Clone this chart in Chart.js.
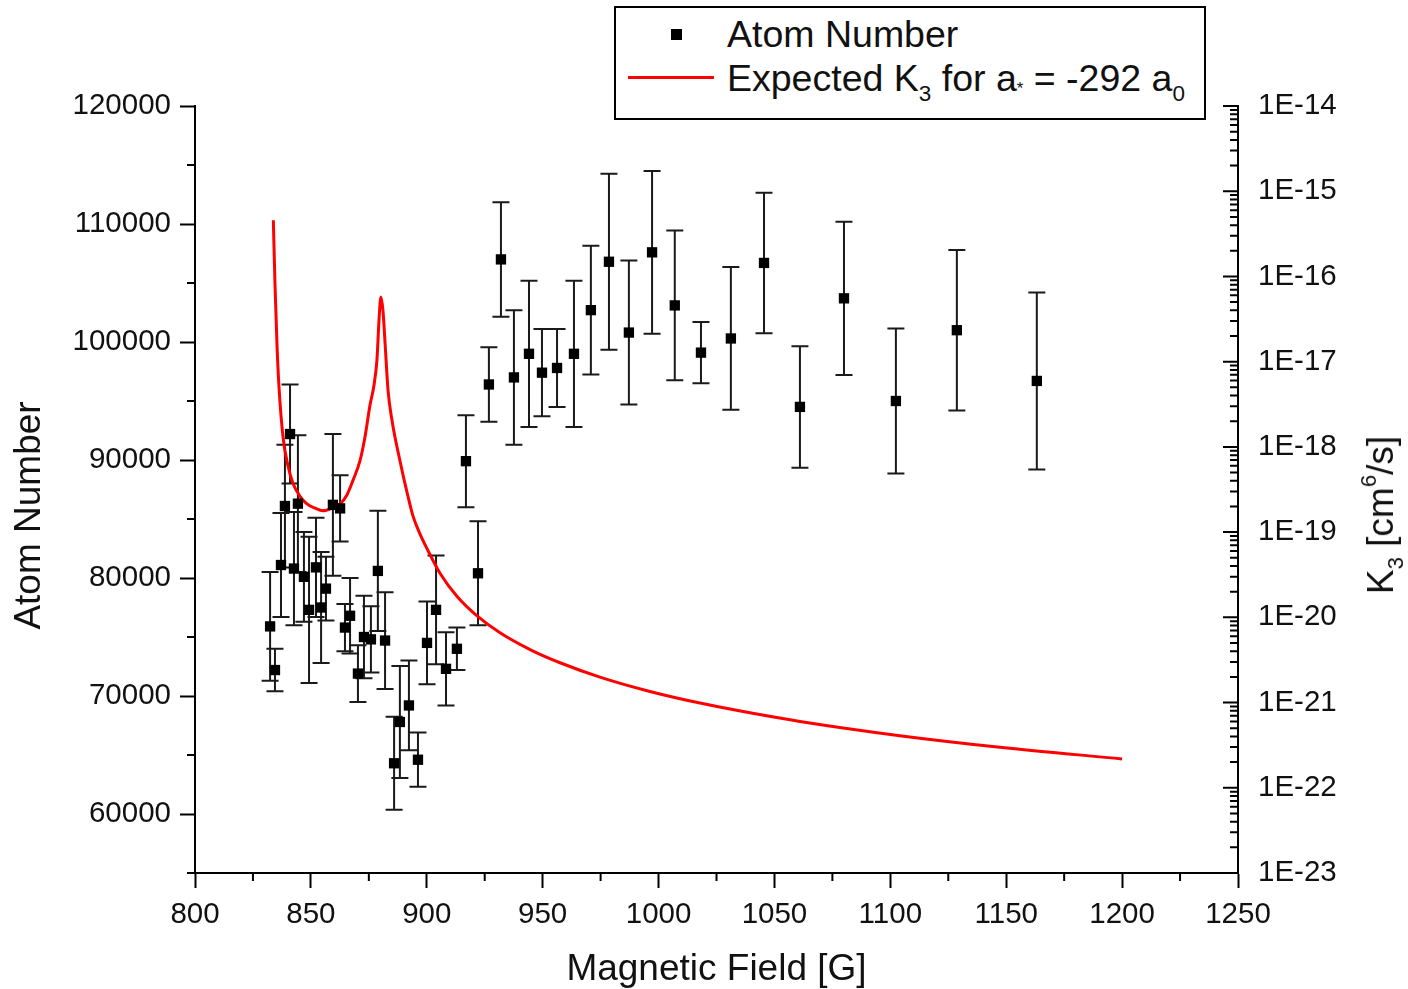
<!DOCTYPE html>
<html>
<head>
<meta charset="utf-8">
<script src="https://cdn.jsdelivr.net/npm/chart.js@4.4.0/dist/chart.umd.min.js"></script>
<style>
html,body{margin:0;padding:0;background:#fff;}
#wrap{position:relative;width:1408px;height:989px;overflow:hidden;}
#chart{position:absolute;left:0;top:0;}
.txt{font-family:"Liberation Sans",Arial,sans-serif;color:#111;}
#legend{position:absolute;left:614px;top:6px;width:588px;height:110px;border:2px solid #000;background:#fff;font-size:37.5px;}
#legend .row{position:absolute;left:111px;height:40px;line-height:40px;white-space:nowrap;}
#legend .sq{position:absolute;left:55px;top:21px;width:11px;height:11px;background:#000;}
#legend .ln{position:absolute;left:12px;top:68px;width:86px;height:3px;background:#ff0000;}
sub.s{font-size:60%;vertical-align:-0.45em;line-height:0;}
sup.s{font-size:60%;vertical-align:0.75em;line-height:0;}
#rtitle{position:absolute;left:1381px;top:515px;transform:translate(-50%,-50%) rotate(-90deg);font-size:37px;white-space:nowrap;}
</style>
</head>
<body>
<div id="wrap">
<canvas id="chart" width="1408" height="989"></canvas>
<div id="legend" class="txt">
  <div class="sq"></div>
  <div class="row" style="top:6px;">Atom Number</div>
  <div class="ln"></div>
  <div class="row" style="top:50px;">Expected K<sub class="s">3</sub> for a<sub class="s" style="font-size:45%;vertical-align:-0.2em">*</sub> = -292 a<sub class="s">0</sub></div>
</div>
<div id="rtitle" class="txt">K<sub class="s">3</sub> [cm<sup class="s">6</sup>/s]</div>
</div>
<script>
// ---- data ----
const fields = [832.4, 834.5, 837.1, 838.8, 841.0, 842.7, 844.4, 847.0, 849.2, 852.2,
  854.4, 856.5, 859.5, 862.6, 864.7, 866.9, 870.3, 872.9, 875.9, 878.9,
  882.0, 885.9, 888.4, 892.3, 896.2, 900.1, 904.0, 908.3, 913.0, 916.9,
  922.1, 926.8, 932.0, 937.6, 944.1, 949.7, 956.2, 963.5, 970.8, 978.6,
  987.2, 997.2, 1007.0, 1018.3, 1031.2, 1045.5, 1061.0, 1080.0, 1102.4, 1128.7, 1163.2];
const atoms = [75900, 72200, 81100, 86100, 92200, 80800, 86300, 80100, 77300, 80900,
  77500, 79100, 86200, 85900, 75800, 76800, 71900, 75000, 74800, 80600,
  74700, 64300, 67800, 69200, 64600, 74500, 77300, 72300, 74000, 89900,
  80400, 96400, 107000, 97000, 99000, 97400, 97800, 99000, 102700, 106800,
  100800, 107600, 103100, 99100, 100300, 106700, 94500, 103700, 95000, 101000, 96700];
const atomErr = [4600, 1800, 4400, 5200, 4200, 4800, 5800, 3800, 6200, 4200,
  4700, 2700, 6000, 2800, 2000, 3200, 2400, 3500, 2800, 5100,
  4100, 3950, 4750, 3800, 2300, 3500, 4600, 3100, 1800, 3900,
  4400, 3150, 4850, 5700, 6200, 3700, 3300, 6200, 5450, 7450,
  6100, 6900, 6350, 2600, 6050, 5950, 5150, 6500, 6150, 6800, 7500];
const curveField = [833.8, 834.5, 835.4, 836.2, 838.0, 840.1, 842.3, 845.3, 848.3, 851.8,
  855.2, 859.1, 862.6, 865.6, 868.2, 871.2, 873.3, 875.5, 877.2, 878.5,
  879.4, 880.2, 881.1, 882.0, 883.3, 885.0, 888.4, 891.5, 894.0, 897.0,
  900.1, 905.7, 913.0, 921.7, 931.6, 945.0, 957.5, 974.7, 996.3, 1017.9,
  1040.0, 1061.0, 1104.1, 1147.3, 1200.0];
const curveK = [4.57e-16, 8.3e-17, 1.51e-17, 5.25e-18, 1.29e-18, 6.03e-19, 3.72e-19, 2.63e-19, 2.14e-19, 1.91e-19,
  1.78e-19, 1.91e-19, 2.14e-19, 2.75e-19, 4.07e-19, 6.92e-19, 1.29e-18, 3.09e-18, 5.25e-18, 1.05e-17,
  3.09e-17, 5.75e-17, 3.98e-17, 1.66e-17, 4.57e-18, 2.04e-18, 6.92e-19, 2.91e-19, 1.56e-19, 9.59e-20,
  6.40e-20, 3.29e-20, 1.77e-20, 1.04e-20, 6.59e-21, 4.13e-21, 2.93e-21, 1.99e-21, 1.35e-21, 9.86e-22,
  7.53e-22, 6.01e-22, 4.09e-22, 2.99e-22, 2.18e-22];
const xTicks = [800, 850, 900, 950, 1000, 1050, 1100, 1150, 1200, 1250];
const xMinor = [825, 875, 925, 975, 1025, 1075, 1125, 1175, 1225];
const yTicks = [60000, 70000, 80000, 90000, 100000, 110000, 120000];
const yMinor = [55000, 65000, 75000, 85000, 95000, 105000, 115000];
const kExps = [-23, -22, -21, -20, -19, -18, -17, -16, -15, -14];

const FONT = '"Liberation Sans", Arial, sans-serif';
Chart.defaults.font.family = FONT;
Chart.defaults.color = '#111';

const errorBars = {
  id: 'errorBars',
  beforeDatasetsDraw(chart) {
    const {ctx} = chart; const xs = chart.scales.x, ys = chart.scales.y;
    ctx.save(); ctx.strokeStyle = '#1a1a1a'; ctx.lineWidth = 2;
    fields.forEach((f, i) => {
      const x = xs.getPixelForValue(f);
      const yt = ys.getPixelForValue(atoms[i] + atomErr[i]);
      const yb = ys.getPixelForValue(atoms[i] - atomErr[i]);
      ctx.beginPath();
      ctx.moveTo(x, yt); ctx.lineTo(x, yb);
      ctx.moveTo(x - 8.5, yt); ctx.lineTo(x + 8.5, yt);
      ctx.moveTo(x - 8.5, yb); ctx.lineTo(x + 8.5, yb);
      ctx.stroke();
    });
    ctx.restore();
  }
};

const minorTicks = {
  id: 'minorTicks',
  afterDraw(chart) {
    const {ctx} = chart; const xs = chart.scales.x, ys = chart.scales.y, ks = chart.scales.y2;
    ctx.save(); ctx.strokeStyle = '#000'; ctx.lineWidth = 2; ctx.beginPath();
    xMinor.forEach(v => { const p = xs.getPixelForValue(v); ctx.moveTo(p, xs.top); ctx.lineTo(p, xs.top + 8); });
    yMinor.forEach(v => { const p = ys.getPixelForValue(v); ctx.moveTo(ys.right, p); ctx.lineTo(ys.right - 8, p); });
    const xr = ks.left;
    kExps.forEach(e => {
      const p = ks.getPixelForValue(Math.pow(10, e));
      ctx.moveTo(xr, p); ctx.lineTo(xr - 15, p);
      if (e < -14) {
        for (let m = 2; m <= 9; m++) {
          const q = ks.getPixelForValue(m * Math.pow(10, e));
          ctx.moveTo(xr, q); ctx.lineTo(xr - 8, q);
        }
      }
    });
    ctx.stroke(); ctx.restore();
  }
};

// shift the left axis title down slightly, as in the original figure
const titleShift = {
  id: 'titleShift',
  afterLayout(chart) {
    const s = chart.scales.y;
    if (s && !s._shiftPatched) {
      const orig = s.drawTitle.bind(s);
      s.drawTitle = function () { const c = this.ctx; c.save(); c.translate(0, 26); orig(); c.restore(); };
      s._shiftPatched = true;
    }
  }
};

const tickFont = {size: 29.5, family: FONT};
new Chart(document.getElementById('chart'), {
  type: 'scatter',
  data: {
    datasets: [
      {
        label: 'Atom Number',
        data: fields.map((f, i) => ({x: f, y: atoms[i]})),
        pointStyle: 'rect', pointRadius: 7.3, pointBorderWidth: 0,
        backgroundColor: '#000', borderColor: '#000', showLine: false,
        yAxisID: 'y', order: 0
      },
      {
        type: 'line',
        label: 'Expected K3 for a* = -292 a0',
        data: curveField.map((f, i) => ({x: f, y: curveK[i]})),
        borderColor: '#ff0000', borderWidth: 3, pointRadius: 0,
        cubicInterpolationMode: 'monotone', fill: false,
        yAxisID: 'y2', order: 1
      }
    ]
  },
  options: {
    responsive: false, animation: false, devicePixelRatio: 1,
    layout: {padding: {top: 106, left: 0, right: 0, bottom: 0}},
    plugins: {legend: {display: false}, tooltip: {enabled: false}},
    scales: {
      x: {
        type: 'linear', position: 'bottom', min: 800, max: 1250,
        afterBuildTicks: s => { s.ticks = xTicks.map(v => ({value: v})); },
        afterFit: s => { s.height = 116; },
        ticks: {font: tickFont, color: '#111', padding: 9, autoSkip: false, maxRotation: 0, callback: v => String(v)},
        grid: {drawOnChartArea: false, drawTicks: true, tickLength: 15, tickWidth: 2, tickColor: '#000'},
        border: {display: true, color: '#000', width: 2},
        title: {display: true, text: 'Magnetic Field [G]', font: {size: 37, family: FONT}, color: '#111', padding: {top: 0, bottom: -3}}
      },
      y: {
        type: 'linear', position: 'left', min: 55000, max: 120000,
        afterBuildTicks: s => { s.ticks = yTicks.map(v => ({value: v})); },
        afterFit: s => { s.width = 195; },
        ticks: {font: tickFont, color: '#111', padding: 9, autoSkip: false, callback: v => String(v)},
        grid: {drawOnChartArea: false, drawTicks: true, tickLength: 15, tickWidth: 2, tickColor: '#000'},
        border: {display: true, color: '#000', width: 2},
        title: {display: true, text: 'Atom Number', font: {size: 37, family: FONT}, color: '#111', padding: {top: 8, bottom: 0}}
      },
      y2: {
        type: 'logarithmic', position: 'right', min: 1e-23, max: 1e-14,
        afterBuildTicks: s => { s.ticks = kExps.map(e => ({value: Math.pow(10, e)})); },
        afterFit: s => { s.width = 170; },
        ticks: {font: tickFont, color: '#111', padding: 20, autoSkip: false,
          callback: v => '1E' + Math.round(Math.log10(v))},
        grid: {drawOnChartArea: false, drawTicks: false},
        border: {display: true, color: '#000', width: 2},
        title: {display: false}
      }
    }
  },
  plugins: [errorBars, minorTicks, titleShift]
});
</script>
</body>
</html>
